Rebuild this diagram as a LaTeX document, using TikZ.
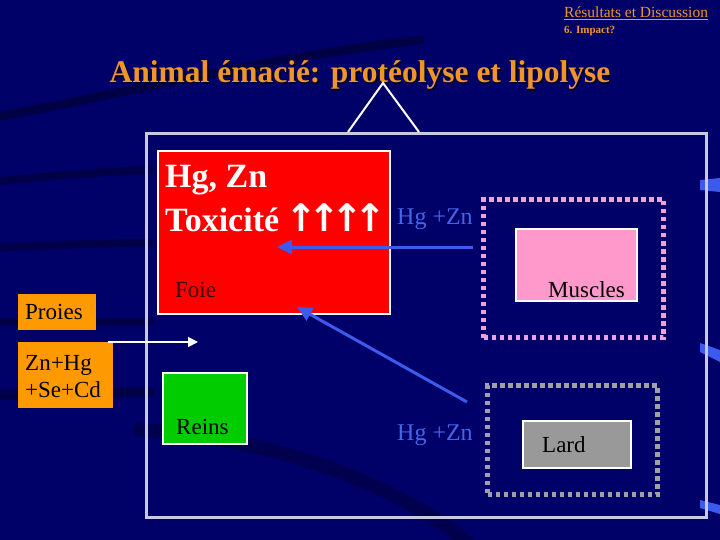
\documentclass[tikz,border=0pt]{standalone}
\usepackage{fontspec}
\setmainfont{Liberation Serif}[BoldFont={Liberation Serif Bold}]
\newfontfamily\arrowfont{DejaVu Sans}[BoldFont={DejaVu Sans Bold}]
\usetikzlibrary{arrows.meta}
\definecolor{bgnavy}{RGB}{0,0,105}
\definecolor{ttlorange}{RGB}{240,150,40}
\definecolor{framegray}{RGB}{200,200,228}
\definecolor{txtblue}{RGB}{70,100,230}
\definecolor{arrblue}{RGB}{60,90,235}
\definecolor{pinkframe}{RGB}{240,160,220}
\definecolor{pinkfill}{RGB}{255,153,204}
\definecolor{grayframe}{RGB}{160,160,172}
\definecolor{grayfill}{RGB}{153,153,153}
\definecolor{greenfill}{RGB}{0,204,0}
\definecolor{boxorange}{RGB}{255,153,0}
\definecolor{darkred}{RGB}{60,0,0}
\tikzset{
  organ/.style={draw=white, line width=2pt, inner sep=0pt, anchor=north west},
  dotframe/.style={line width=5pt, dash pattern=on 4.5pt off 3.5pt, inner sep=0pt, anchor=north west},
  lbl/.style={inner sep=0pt, anchor=base west, font=\fontsize{23}{27}\selectfont},
  bluelbl/.style={lbl, text=txtblue, font=\fontsize{24}{28}\selectfont},
  bluearrow/.style={draw=arrblue, line width=3pt, -{Triangle[length=15pt,width=14pt]}},
  whitearrow/.style={draw=white, line width=1.5pt, -{Triangle[length=10pt,width=10pt]}},
  preybox/.style={fill=boxorange, inner sep=0pt, anchor=north west}
}
\begin{document}
\begin{tikzpicture}[x=1pt,y=-1pt]
\fill[bgnavy] (0,0) rectangle (720,540);
\useasboundingbox (0,0) rectangle (720,540);
% background swooshes
\begin{scope}[line cap=round]
\draw[black, opacity=0.35, line width=9pt] (-10,118) .. controls (120,95) and (250,60) .. (420,40);
\draw[black, opacity=0.3, line width=8pt] (-10,182) .. controls (60,175) and (100,172) .. (150,170);
\draw[black, opacity=0.3, line width=8pt] (-10,248) .. controls (60,245) and (100,243) .. (150,243);
\draw[black, opacity=0.3, line width=8pt] (-10,322) .. controls (60,322) and (100,322) .. (150,322);
\draw[black, opacity=0.3, line width=10pt] (-10,395) .. controls (60,395) and (100,392) .. (150,392);
\draw[black, opacity=0.25, line width=14pt] (140,430) .. controls (300,440) and (420,500) .. (470,545);
\end{scope}
\fill[arrblue] (700,180) -- (720,178) -- (720,192) -- (700,190) -- cycle;
\fill[arrblue] (700,343) -- (720,350) -- (720,362) -- (700,352) -- cycle;
\fill[arrblue] (700,500) -- (720,505) -- (720,514) -- (700,508) -- cycle;

% header
\node[inner sep=0pt, anchor=base west, text=ttlorange, font=\fontsize{15.5}{17}\selectfont] (sect) at (564,18) {\underline{Résultats et Discussion}};
\node[inner sep=0pt, anchor=base west, text=ttlorange, font=\bfseries\fontsize{11}{13}\selectfont] (sub) at (564,34) {6. Impact?};

% title
\node[inner sep=0pt, anchor=base, text=black, opacity=0.7, font=\fontsize{31.5}{34}\selectfont\bfseries] (titleshadow) at (361.5,84.5) {Animal émacié: protéolyse et lipolyse};
\node[inner sep=0pt, anchor=base, text=ttlorange, font=\fontsize{31.5}{34}\selectfont\bfseries] (title) at (360,83) {Animal émacié: protéolyse et lipolyse};

% main frame and triangle
\node[draw=framegray, line width=3pt, inner sep=0pt, minimum width=560pt, minimum height=384pt, anchor=north west] (frame) at (145,132) {};
\coordinate (apex) at (383,83);
\draw[white, line width=2pt, line join=miter] (348,132) -- (apex) -- (419,132);

% foie
\node[organ, fill=red, minimum width=232pt, minimum height=163pt] (foie) at (157,150) {};
\node[inner sep=0pt, anchor=base west, text=white, font=\fontsize{34}{36}\selectfont\bfseries] (hgzn) at (165,188) {Hg, Zn};
\node[inner sep=0pt, anchor=base west, text=white, font=\fontsize{34}{36}\selectfont\bfseries] (tox) at (165,232) {Toxicité {\arrowfont\fontsize{38}{40}\selectfont\bfseries\kern-2pt↑\kern-9pt↑\kern-9pt↑\kern-9pt↑}};
\node[lbl, text=darkred] (foielbl) at (175,297) {Foie};

% reins
\node[organ, fill=greenfill, minimum width=84pt, minimum height=71pt] (reins) at (162,372) {};
\node[lbl, text=black] (reinslbl) at (176,434) {Reins};

% muscles
\node[dotframe, draw=pinkframe, minimum width=180pt, minimum height=138pt] (musF) at (481,197) {};
\node[organ, fill=pinkfill, minimum width=121pt, minimum height=72pt] (muscles) at (515,228) {};
\node[lbl, text=black] (muslbl) at (548,297) {Muscles};

% lard
\node[dotframe, draw=grayframe, minimum width=170pt, minimum height=109pt] (lardF) at (485,383) {};
\node[organ, fill=grayfill, minimum width=108pt, minimum height=47pt] (lard) at (522,420) {};
\node[lbl, text=black] (lardlbl) at (542,452) {Lard};

% blue labels
\node[bluelbl] (hz1) at (397,225) {Hg +Zn};
\node[bluelbl] (hz2) at (397,440) {Hg +Zn};

% prey
\node[preybox, minimum width=78pt, minimum height=36pt] (proies) at (18,294) {};
\node[lbl, text=black] (proieslbl) at (25,319) {Proies};
\node[preybox, minimum width=95pt, minimum height=66pt] (prey) at (18,342) {};
\node[lbl, text=black, align=left] (preylbl1) at (25,370) {Zn+Hg};
\node[lbl, text=black, align=left] (preylbl2) at (25,397) {+Se+Cd};

% connectors
\coordinate (h1) at (277,247);
\draw[bluearrow] ([xshift=-8pt]musF.west |- h1) -- (h1);
\coordinate (d0) at (467,402);
\coordinate (d1) at (297,307);
\draw[bluearrow] (d0) -- (d1);
\coordinate (w1) at (198,342);
\draw[whitearrow] ([xshift=-5pt]prey.north east) -- (w1);
\end{tikzpicture}
\end{document}
